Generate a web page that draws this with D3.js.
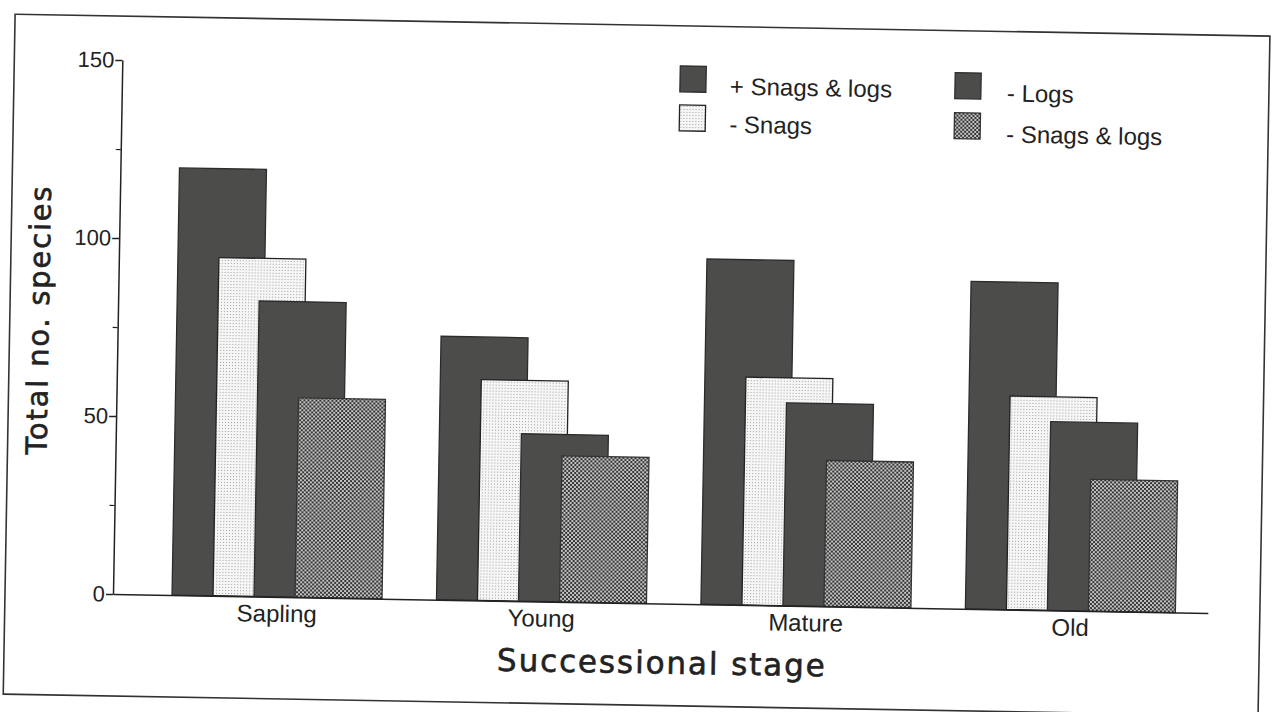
<!DOCTYPE html>
<html><head><meta charset="utf-8">
<script src="https://cdn.jsdelivr.net/npm/d3@7"></script>
<style>body{margin:0;background:#fff;} svg{display:block}</style>
</head><body>
<svg id="chart" width="1274" height="712"></svg>
<script>
// ---- data ----
const categories = ["Sapling", "Young", "Mature", "Old"];
const seriesNames = ["+ Snags & logs", "- Snags", "- Logs", "- Snags & logs"];
const withSnagsLogs = [120, 74, 97, 92];
const noSnags = [95, 62, 64, 60];
const noLogs = [83, 47, 57, 53];
const noSnagsLogs = [56, 41, 41, 37];
const yTickValues = [0, 50, 100, 150];
const yMinorTickValues = [25, 75, 125];
const xTitle = "Successional stage";
const yTitle = "Total no. species";

const seriesValues = [withSnagsLogs, noSnags, noLogs, noSnagsLogs];

// ---- layout ----
const svg = d3.select("#chart");
const X0 = 113, X1 = 1208, Y0 = 594, Y1 = 60;
const root = svg.append("g").attr("transform", `rotate(1, ${X0}, ${Y0})`);

const defs = svg.append("defs");
const pl = defs.append("pattern").attr("id", "pLight").attr("patternUnits", "userSpaceOnUse")
  .attr("width", 3).attr("height", 3);
pl.append("rect").attr("width", 3).attr("height", 3).attr("fill", "#f6f6f6");
pl.append("rect").attr("width", 1).attr("height", 1).attr("fill", "#a0a0a0");
const pc = defs.append("pattern").attr("id", "pCheck").attr("patternUnits", "userSpaceOnUse")
  .attr("width", 4).attr("height", 4);
pc.append("rect").attr("width", 4).attr("height", 4).attr("fill", "#c4c4c4");
pc.append("rect").attr("width", 2).attr("height", 2).attr("fill", "#363636");
pc.append("rect").attr("x", 2).attr("y", 2).attr("width", 2).attr("height", 2).attr("fill", "#363636");

const fills = ["#4c4c4a", "url(#pLight)", "#4c4c4a", "url(#pCheck)"];
const strokes = ["#2c2c2c", "#222", "#2c2c2c", "#333"];

// frame
root.append("rect").attr("x", 5).attr("y", 16).attr("width", 1255).attr("height", 680)
  .attr("fill", "none").attr("stroke", "#333").attr("stroke-width", 1.6);

const x = d3.scaleBand().domain(categories).range([X0, X1])
  .paddingInner(0.206).paddingOuter(0.173).align(0.645);
const inner = d3.scalePoint().domain(seriesNames).range([0, x.bandwidth() - 87]);
const barW = 87;
const y = d3.scaleLinear().domain([0, 150]).range([Y0, Y1]);

// bars
seriesNames.forEach((s, si) => {
  root.append("g").selectAll("rect").data(categories).join("rect")
    .attr("x", c => x(c) + inner(s))
    .attr("y", (c, i) => y(seriesValues[si][i]))
    .attr("width", barW)
    .attr("height", (c, i) => y(0) - y(seriesValues[si][i]))
    .attr("fill", fills[si])
    .attr("stroke", strokes[si])
    .attr("stroke-width", 1.3);
});

// y axis
const yAxis = root.append("g").attr("transform", `translate(${X0},0)`)
  .call(d3.axisLeft(y).tickValues(yTickValues).tickSize(7).tickSizeOuter(0).tickPadding(1));
yAxis.selectAll("text").attr("font-family", "Liberation Sans, Arial, sans-serif")
  .attr("font-size", 22).attr("fill", "#222");
yAxis.selectAll("line").attr("stroke", "#222").attr("stroke-width", 1.5);
yAxis.select(".domain").attr("stroke", "#222").attr("stroke-width", 1.5);
root.append("g").attr("transform", `translate(${X0},0)`)
  .call(d3.axisLeft(y).tickValues(yMinorTickValues).tickSize(5).tickFormat(""))
  .call(g => g.select(".domain").remove())
  .selectAll("line").attr("stroke", "#222").attr("stroke-width", 1.2);

// x axis
const xAxis = root.append("g").attr("transform", `translate(0,${Y0})`)
  .call(d3.axisBottom(x).tickSize(0).tickSizeOuter(0).tickPadding(8));
xAxis.select(".domain").attr("stroke", "#222").attr("stroke-width", 1.5);
xAxis.selectAll("text").attr("font-family", "Liberation Sans, Arial, sans-serif")
  .attr("font-size", 24).attr("fill", "#222");

// axis titles
root.append("text").attr("x", 663).attr("y", 664).attr("text-anchor", "middle")
  .attr("font-family", "DejaVu Sans, sans-serif").attr("font-size", 31)
  .attr("letter-spacing", 1.9).attr("fill", "#222").attr("stroke", "#222").attr("stroke-width", 0.6)
  .text(xTitle);
root.append("text").attr("transform", "translate(44,321) rotate(-90)").attr("text-anchor", "middle")
  .attr("font-family", "DejaVu Sans, sans-serif").attr("font-size", 29)
  .attr("letter-spacing", 1.8).attr("fill", "#222").attr("stroke", "#222").attr("stroke-width", 0.6)
  .text(yTitle);

// legend
const legPos = [
  {sx: 671, sy: 56, tx: 721, ty: 84},
  {sx: 671, sy: 95, tx: 721, ty: 122},
  {sx: 946, sy: 58, tx: 998, ty: 86},
  {sx: 946, sy: 98, tx: 998, ty: 127}
];
const leg = root.append("g");
seriesNames.forEach((s, i) => {
  leg.append("rect").attr("x", legPos[i].sx).attr("y", legPos[i].sy).attr("width", 26).attr("height", 26)
    .attr("fill", fills[i]).attr("stroke", strokes[i]).attr("stroke-width", 1.3);
  leg.append("text").attr("x", legPos[i].tx).attr("y", legPos[i].ty)
    .attr("font-family", "Liberation Sans, Arial, sans-serif").attr("font-size", 24).attr("fill", "#222")
    .text(s);
});
</script>
</body></html>
